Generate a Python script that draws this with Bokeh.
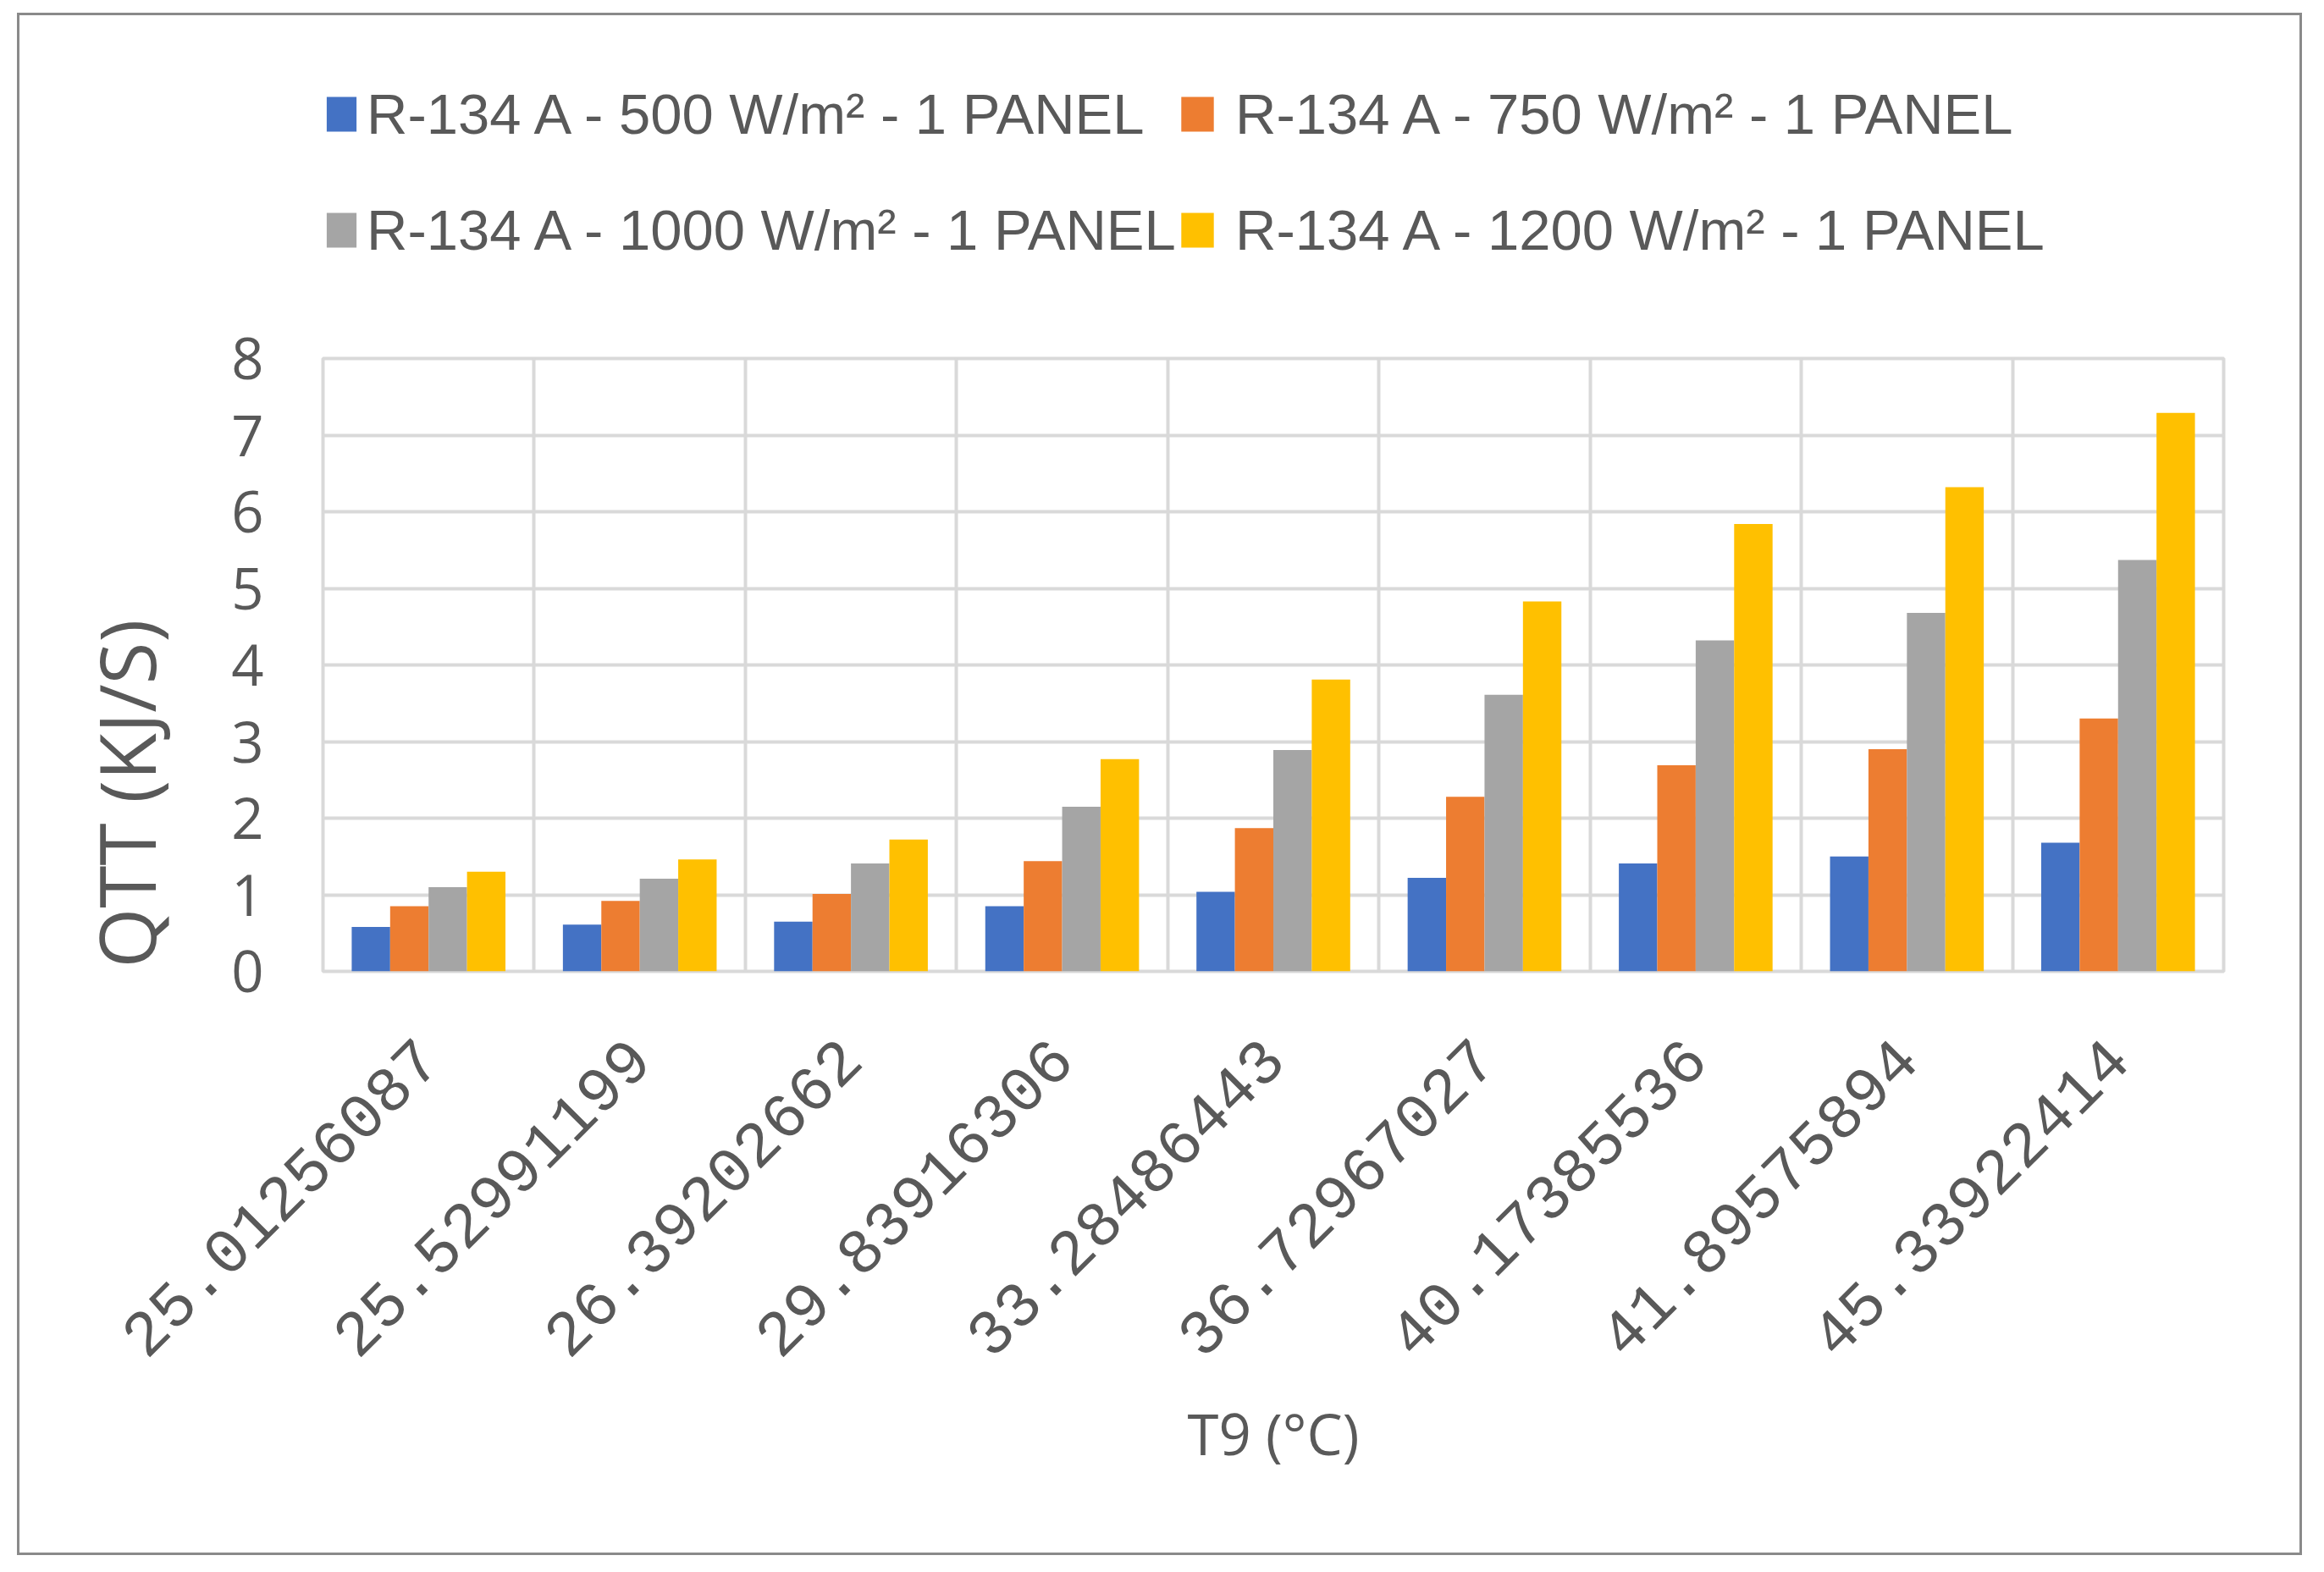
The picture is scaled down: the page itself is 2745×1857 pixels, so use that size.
import math
from bokeh.plotting import figure
from bokeh.models import Range1d, FixedTicker, Legend, LegendItem, Title, ColumnDataSource, Spacer
from bokeh.layouts import column, row
from bokeh.embed import file_html
from bokeh.resources import INLINE

# ---------------- data ----------------
categories = ["25.01256087", "25.52991199", "26.39202662", "29.83916306", "33.28486443",
              "36.72967027", "40.17385536", "41.89575894", "45.33922414"]
series_names = ["R-134 A - 500 W/m² - 1 PANEL", "R-134 A - 750 W/m² - 1 PANEL",
                "R-134 A - 1000 W/m² - 1 PANEL", "R-134 A - 1200 W/m² - 1 PANEL"]
q_500 = [0.58, 0.61, 0.65, 0.85, 1.04, 1.22, 1.41, 1.50, 1.68]
q_750 = [0.85, 0.92, 1.01, 1.44, 1.87, 2.28, 2.69, 2.90, 3.30]
q_1000 = [1.10, 1.21, 1.41, 2.15, 2.89, 3.61, 4.32, 4.68, 5.37]
q_1200 = [1.30, 1.46, 1.72, 2.77, 3.81, 4.83, 5.84, 6.32, 7.29]
y_ticks = [0, 1, 2, 3, 4, 5, 6, 7, 8]
x_title = "T9 (°C)"
y_title = "QTT (KJ/S)"

series_values = [q_500, q_750, q_1000, q_1200]
colors = ["#4472C4", "#ED7D31", "#A5A5A5", "#FFC000"]
TXT = "#595959"
GRID = "#D9D9D9"
W = 2693

n = len(categories)

# ---------------- main chart ----------------
p = figure(width=W, height=1496, output_backend="svg", toolbar_location=None,
           x_range=Range1d(0, n), y_range=Range1d(0, 8),
           min_border_left=358, min_border_right=90, min_border_top=85, min_border_bottom=687)
p.background_fill_color = "white"
p.border_fill_color = "white"
p.outline_line_color = GRID
p.outline_line_width = 4

bar_w = 0.182
for k, (name, vals, col) in enumerate(zip(series_names, series_values, colors)):
    xs = [i + 0.5 + (k - 1.5) * bar_w for i in range(n)]
    src = ColumnDataSource(dict(x=xs, top=vals))
    p.vbar(x="x", top="top", width=bar_w, bottom=0, source=src,
           fill_color=col, line_color=None)

p.ygrid.ticker = FixedTicker(ticks=y_ticks)
p.ygrid.grid_line_color = GRID
p.ygrid.grid_line_width = 4
p.xgrid.ticker = FixedTicker(ticks=list(range(n + 1)))
p.xgrid.grid_line_color = GRID
p.xgrid.grid_line_width = 4

ya = p.yaxis[0]
ya.ticker = FixedTicker(ticks=y_ticks)
ya.axis_line_color = None
ya.major_tick_line_color = None
ya.minor_tick_line_color = None
ya.major_tick_out = 0
ya.major_tick_in = 0
ya.major_label_standoff = 70
ya.major_label_text_font = "Open Sans"
ya.major_label_text_font_size = "67px"
ya.major_label_text_color = TXT

xa = p.xaxis[0]
centers = [i + 0.5 for i in range(n)]
xa.ticker = FixedTicker(ticks=centers)
xa.major_label_overrides = {c: lab for c, lab in zip(centers, categories)}
xa.major_label_orientation = math.pi / 4
xa.axis_line_color = None
xa.major_tick_line_color = None
xa.minor_tick_line_color = None
xa.major_tick_out = 0
xa.major_tick_in = 0
xa.major_label_standoff = 92
xa.major_label_text_font = "Liberation Mono"
xa.major_label_text_font_size = "75px"
xa.major_label_text_color = TXT
xa.axis_label = x_title
xa.axis_label_text_font = "Open Sans"
xa.axis_label_text_font_size = "67px"
xa.axis_label_text_font_style = "normal"
xa.axis_label_text_color = TXT
xa.axis_label_standoff = 20

# y title: starts near the bottom of the plot area, like the reference
p.add_layout(Title(text=y_title, align="left", offset=4, standoff=119,
                   text_font="Open Sans", text_font_size="91px",
                   text_font_style="normal", text_color=TXT), "left")

# ---------------- legend strip ----------------
lf = figure(width=W, height=320, output_backend="svg", toolbar_location=None,
            x_range=Range1d(0, 1), y_range=Range1d(0, 1),
            x_axis_type=None, y_axis_type=None, min_border=0)
lf.outline_line_color = None
lf.grid.visible = False
lf.background_fill_color = None
lf.border_fill_color = None
swatches = []
for col in colors:
    # legend swatch renderers (zero-height, outside the visible range)
    swatches.append(lf.vbar(x=[-10], top=[0], bottom=0, width=0.1, fill_color=col, line_color=None))


def mk_legend(idx, vx, gw, standoff):
    return Legend(items=[LegendItem(label=series_names[i], renderers=[swatches[i]]) for i in idx],
                  location=(vx, 27), orientation="vertical",
                  glyph_width=gw, glyph_height=51, label_standoff=standoff,
                  spacing=57, label_height=80,
                  padding=0, margin=0, border_line_alpha=0, background_fill_alpha=0,
                  label_text_font="Liberation Sans", label_text_font_size="67px",
                  label_text_color=TXT)


lf.add_layout(mk_legend([0, 2], 0, 44, 8), "center")
lf.add_layout(mk_legend([1, 3], 1009, 48, 21), "center")

inner = column(lf, p, spacing=0, styles={"border": "3px solid #8a8a8a"})
root = column(Spacer(height=15), row(Spacer(width=20), inner))

open("out.html", "w").write(file_html(root, INLINE))
